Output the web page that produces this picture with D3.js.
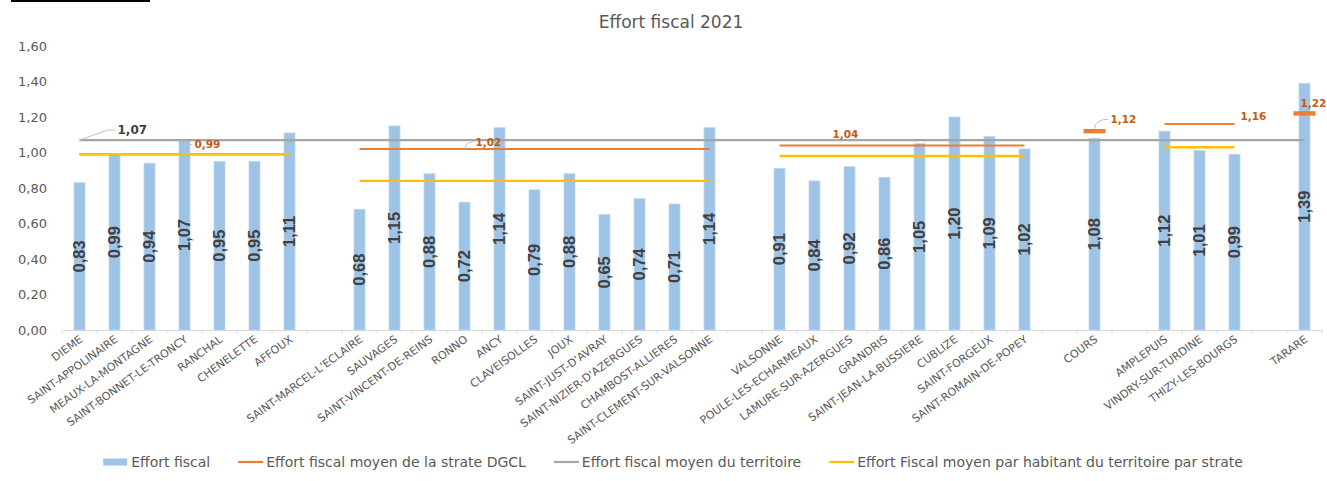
<!DOCTYPE html>
<html><head><meta charset="utf-8">
<script src="https://cdn.jsdelivr.net/npm/d3@7"></script>
<style>
html,body{margin:0;padding:0;background:#fff;}
svg{display:block;}
</style></head>
<body>
<svg id="chart" width="1327" height="481"></svg>
<script>
// ---------- DATA ----------
const title = "Effort fiscal 2021";
const categories = ["DIEME","SAINT-APPOLINAIRE","MEAUX-LA-MONTAGNE","SAINT-BONNET-LE-TRONCY","RANCHAL","CHENELETTE","AFFOUX","",
  "SAINT-MARCEL-L'ECLAIRE","SAUVAGES","SAINT-VINCENT-DE-REINS","RONNO","ANCY","CLAVEISOLLES","JOUX","SAINT-JUST-D'AVRAY","SAINT-NIZIER-D'AZERGUES","CHAMBOST-ALLIERES","SAINT-CLEMENT-SUR-VALSONNE","",
  "VALSONNE","POULE-LES-ECHARMEAUX","LAMURE-SUR-AZERGUES","GRANDRIS","SAINT-JEAN-LA-BUSSIERE","CUBLIZE","SAINT-FORGEUX","SAINT-ROMAIN-DE-POPEY","",
  "COURS","",
  "AMPLEPUIS","VINDRY-SUR-TURDINE","THIZY-LES-BOURGS","",
  "TARARE"];
const effortFiscal = [0.83,0.99,0.94,1.07,0.95,0.95,1.11,null,
  0.68,1.15,0.88,0.72,1.14,0.79,0.88,0.65,0.74,0.71,1.14,null,
  0.91,0.84,0.92,0.86,1.05,1.20,1.09,1.02,null,
  1.08,null,
  1.12,1.01,0.99,null,
  1.39];
const moyenStrateDGCL = [0.99,0.99,0.99,0.99,0.99,0.99,0.99,null,
  1.02,1.02,1.02,1.02,1.02,1.02,1.02,1.02,1.02,1.02,1.02,null,
  1.04,1.04,1.04,1.04,1.04,1.04,1.04,1.04,null,
  1.12,null,
  1.16,1.16,1.16,null,
  1.22];
const moyenTerritoire = [1.07,1.07,1.07,1.07,1.07,1.07,1.07,1.07,
  1.07,1.07,1.07,1.07,1.07,1.07,1.07,1.07,1.07,1.07,1.07,1.07,
  1.07,1.07,1.07,1.07,1.07,1.07,1.07,1.07,1.07,
  1.07,1.07,
  1.07,1.07,1.07,1.07,
  1.07];
const moyenParStrate = [0.99,0.99,0.99,0.99,0.99,0.99,0.99,null,
  0.84,0.84,0.84,0.84,0.84,0.84,0.84,0.84,0.84,0.84,0.84,null,
  0.98,0.98,0.98,0.98,0.98,0.98,0.98,0.98,null,
  1.08,null,
  1.03,1.03,1.03,null,
  1.39];
const yTicks = [0,0.2,0.4,0.6,0.8,1.0,1.2,1.4,1.6];
const strateLabelIdx = [3,11,21,29,33,35];
const territoireLabelIdx = [0];
const legendLabels = ["Effort fiscal","Effort fiscal moyen de la strate DGCL","Effort fiscal moyen du territoire","Effort Fiscal moyen par habitant du territoire par strate"];

// ---------- STYLE / LAYOUT ----------
const C = {bar:"#9DC3E6", barStroke:"#BDD7EE", orange:"#ED7D31", gray:"#A5A5A5", yellow:"#FFC000",
  text:"#595959", dark:"#404040", orangeText:"#C55A11", axis:"#D9D9D9"};
const FONT = "'DejaVu Sans', Verdana, sans-serif";
const NARROW = "'Liberation Sans Narrow', 'Arial Narrow', sans-serif";
const svg = d3.select("#chart");
const fmt = v => d3.format(".2f")(v).replace(".", ",");

const x = d3.scaleBand().domain(d3.range(categories.length)).range([62, 1322]).padding(0);
const cx = i => x(i) + x.bandwidth()/2;
const y = d3.scaleLinear().domain([0, 1.6]).range([330, 46]);
const barW = 11;

// top-left black rule
svg.append("line").attr("x1",11).attr("x2",150).attr("y1",1).attr("y2",1).attr("stroke","#000").attr("stroke-width",2);

// title
svg.append("text").attr("x",671).attr("y",28).attr("text-anchor","middle")
  .attr("font-family",FONT).attr("font-size",17).attr("fill",C.text).text(title);

// y axis labels
const yAxis = d3.axisLeft(y).tickValues(yTicks).tickFormat(fmt).tickSize(0).tickPadding(0);
const gy = svg.append("g").attr("transform","translate(47,0)").call(yAxis);
gy.select(".domain").remove();
gy.selectAll("text").attr("font-family",FONT).attr("font-size",13).attr("fill",C.text);

// x axis
const xAxis = d3.axisBottom(x).tickSize(0).tickFormat(i => categories[i]);
const gx = svg.append("g").attr("transform","translate(0,330)").call(xAxis);
gx.select(".domain").attr("stroke",C.axis).attr("stroke-width",1);
gx.selectAll(".tick line").remove();
gx.selectAll(".tick text")
  .attr("font-family",FONT).attr("font-size",11).attr("fill",C.text)
  .attr("text-anchor","end").attr("dy",null).attr("y",null)
  .attr("transform","translate(4,11) rotate(-36)");
// band boundary ticks
const bounds = d3.range(categories.length).map(i => x(i)).concat([x.range()[1]]);
svg.append("g").selectAll("line").data(bounds).join("line")
  .attr("x1",d=>d).attr("x2",d=>d).attr("y1",330).attr("y2",334)
  .attr("stroke",C.axis).attr("stroke-width",1);

// bars
const barData = effortFiscal.map((v,i)=>({i,v})).filter(d=>d.v!=null);
svg.append("g").selectAll("rect").data(barData).join("rect")
  .attr("x",d=>cx(d.i)-barW/2).attr("width",barW)
  .attr("y",d=>y(d.v)).attr("height",d=>y(0)-y(d.v))
  .attr("fill",C.bar).attr("stroke",C.barStroke).attr("stroke-width",0.8);

// line segments helper
function segments(arr){
  const segs=[]; let cur=[];
  arr.forEach((v,i)=>{ if(v==null){ if(cur.length) segs.push(cur); cur=[]; } else cur.push({i,v}); });
  if(cur.length) segs.push(cur);
  return segs;
}
const line = d3.line().x(d=>cx(d.i)).y(d=>y(d.v));

function drawSeries(arr, color, width, singleMarker){
  const segs = segments(arr);
  const g = svg.append("g");
  g.selectAll("path").data(segs.filter(s=>s.length>1)).join("path")
    .attr("d",line).attr("fill","none").attr("stroke",color).attr("stroke-width",width);
  if(singleMarker){
    g.selectAll("rect").data(segs.filter(s=>s.length===1).map(s=>s[0])).join("rect")
      .attr("x",d=>cx(d.i)-11).attr("width",22).attr("y",d=>y(d.v)-2.2).attr("height",4.4)
      .attr("fill",color);
  }
}
drawSeries(moyenStrateDGCL, C.orange, 2, true);
drawSeries(moyenTerritoire, C.gray, 2.2, false);
drawSeries(moyenParStrate, C.yellow, 2.4, false);

// territoire label + leader
territoireLabelIdx.forEach(i=>{
  const px = cx(i), py = y(moyenTerritoire[i]);
  svg.append("path").attr("d",`M${px},${py} L${px+28},${py-10} L${px+35},${py-10}`)
    .attr("fill","none").attr("stroke","#BFBFBF").attr("stroke-width",1);
  svg.append("text").attr("x",px+38).attr("y",py-10).attr("dy","0.36em")
    .attr("font-family",FONT).attr("font-weight","bold").attr("font-size",12).attr("fill",C.dark)
    .text(fmt(moyenTerritoire[i]));
});

// strate labels
const strateOffsets = [{dx:10,dy:-10,leader:true},{dx:11,dy:-7,leader:true},{dx:18,dy:-11,leader:false},
  {dx:16,dy:-12,leader:true},{dx:6,dy:-8,leader:false},{dx:-4,dy:-10,leader:false}];
strateLabelIdx.forEach((i,k)=>{
  const o = strateOffsets[k];
  const px = cx(i), py = y(moyenStrateDGCL[i]);
  if(o.leader){
    const sy = segments(moyenStrateDGCL).some(s=>s.length===1 && s[0].i===i) ? py-2.5 : py;
    svg.append("path").attr("d",`M${px},${sy} Q${px+1},${py+o.dy} ${px+o.dx-2},${py+o.dy}`)
      .attr("fill","none").attr("stroke","#BFBFBF").attr("stroke-width",1);
  }
  svg.append("text").attr("x",px+o.dx).attr("y",py+o.dy).attr("dy","0.36em")
    .attr("font-family",FONT).attr("font-weight","bold").attr("font-size",10.5).attr("fill",C.orangeText)
    .text(fmt(moyenStrateDGCL[i]));
});

// bar value labels
svg.append("g").selectAll("text").data(barData).join("text")
  .attr("transform",d=>`translate(${cx(d.i)},${y(d.v/2)}) rotate(-90)`)
  .attr("text-anchor","middle").attr("dy","0.35em")
  .attr("font-family",NARROW).attr("font-weight","bold").attr("font-size",16.5).attr("fill",C.dark)
  .text(d=>fmt(d.v));

// legend
const lg = svg.append("g");
const items = legendLabels.map((t,k)=>({t,k}));
const tmp = lg.selectAll("text").data(items).join("text")
  .attr("font-family",FONT).attr("font-size",14).attr("fill",C.text).text(d=>d.t);
const widths = []; tmp.each(function(){ widths.push(this.getComputedTextLength()); });
const sym = 25, gapT = 3, gapI = 28;
const total = d3.sum(widths) + items.length*(sym+gapT) + (items.length-1)*gapI;
let lx = 673 - total/2;
const ly = 462;
items.forEach((d,k)=>{
  if(k===0){
    lg.append("rect").attr("x",lx).attr("y",ly-3.5).attr("width",sym-1).attr("height",7).attr("fill",C.bar);
  } else {
    const col = [null,C.orange,C.gray,C.yellow][k];
    lg.append("line").attr("x1",lx).attr("x2",lx+sym).attr("y1",ly).attr("y2",ly).attr("stroke",col).attr("stroke-width",2.2);
  }
  d.x = lx + sym + gapT;
  lx = d.x + widths[k] + gapI;
});
tmp.attr("x",d=>d.x).attr("y",ly+5);
</script>
</body></html>
